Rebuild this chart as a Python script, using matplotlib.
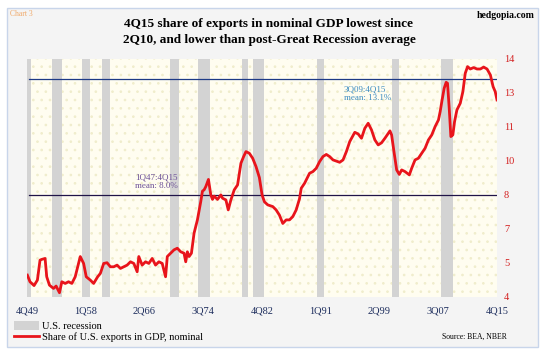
import numpy as np
import matplotlib
matplotlib.use("Agg")
from matplotlib import pyplot as plt
from matplotlib.patches import Rectangle, Patch
from matplotlib.lines import Line2D

plt.rcParams['font.family'] = ['Liberation Serif', 'DejaVu Serif']

# Share of U.S. exports in nominal GDP (%)
years = [1949.80, 1950.17, 1950.74, 1951.21, 1951.58, 1951.82, 1952.29, 1952.52,
         1952.90, 1953.47, 1953.84, 1954.31, 1954.64, 1955.11, 1955.58, 1956.05,
         1956.52, 1957.23, 1957.70, 1958.07, 1958.64, 1959.11, 1959.67, 1960.05,
         1960.52, 1960.99, 1961.46, 1961.93, 1962.40, 1962.87, 1963.34, 1963.81,
         1964.28, 1964.75, 1965.22, 1965.45, 1965.92, 1966.39, 1966.86, 1967.33,
         1967.80, 1968.27, 1968.74, 1969.21, 1969.45, 1969.92, 1970.39, 1970.86,
         1971.33, 1971.80, 1972.04, 1972.27, 1972.51, 1972.84, 1973.21, 1973.68,
         1974.15, 1974.39, 1974.62, 1974.86, 1975.23, 1975.56, 1975.80, 1976.03,
         1976.50, 1976.97, 1977.21, 1977.68, 1978.01, 1978.38, 1978.85, 1979.32,
         1979.79, 1980.17, 1980.50, 1980.97, 1981.44, 1981.91, 1982.38, 1982.76,
         1983.09, 1983.56, 1984.26, 1984.73, 1985.20, 1985.67, 1986.14, 1986.61,
         1987.08, 1987.55, 1988.02, 1988.26, 1988.73, 1989.43, 1989.90, 1990.37,
         1990.84, 1991.31, 1991.78, 1992.25, 1992.72, 1993.19, 1993.66, 1994.13,
         1994.60, 1995.07, 1995.78, 1996.25, 1996.72, 1997.19, 1997.66, 1998.13,
         1998.60, 1999.07, 1999.54, 2000.01, 2000.72, 2000.95, 2001.28, 2001.66,
         2002.03, 2002.36, 2002.83, 2003.44, 2003.77, 2004.24, 2004.71, 2005.18,
         2005.65, 2006.12, 2006.59, 2007.06, 2007.53, 2007.77, 2008.00, 2008.33,
         2008.61, 2008.80, 2009.04, 2009.27, 2009.55, 2009.79, 2010.12, 2010.59,
         2010.96, 2011.29, 2011.62, 2012.00, 2012.47, 2012.94, 2013.41, 2013.88,
         2014.35, 2014.82, 2015.20, 2015.50, 2015.75]
share = [4.92, 4.64, 4.48, 4.71, 5.55, 5.58, 5.62, 4.85,
         4.50, 4.36, 4.46, 4.18, 4.64, 4.57, 4.64, 4.57,
         4.85, 5.70, 5.41, 4.85, 4.71, 4.57, 4.85, 4.99,
         5.41, 5.44, 5.27, 5.27, 5.34, 5.20, 5.27, 5.34,
         5.48, 5.41, 5.06, 5.70, 5.34, 5.48, 5.41, 5.62,
         5.34, 5.48, 5.41, 4.85, 5.70, 5.84, 5.98, 6.05,
         5.90, 5.84, 5.48, 5.90, 5.70, 5.84, 6.68, 7.24,
         8.01, 8.45, 8.50, 8.64, 8.94, 8.29, 8.10, 8.24,
         8.10, 8.29, 8.15, 8.08, 7.66, 8.08, 8.50, 8.71,
         9.62, 9.90, 10.11, 10.04, 9.83, 9.48, 9.02, 8.29,
         8.00, 7.87, 7.80, 7.66, 7.44, 7.09, 7.24, 7.24,
         7.38, 7.66, 8.13, 8.57, 8.78, 9.20, 9.27, 9.41,
         9.69, 9.90, 9.99, 9.90, 9.76, 9.71, 9.66, 9.76,
         10.11, 10.53, 10.92, 10.85, 10.67, 11.09, 11.30, 11.02,
         10.60, 10.39, 10.48, 10.67, 10.98, 10.81, 10.11, 9.34,
         9.15, 9.34, 9.27, 9.13, 9.41, 9.76, 9.83, 10.04,
         10.25, 10.60, 10.81, 11.16, 11.44, 11.79, 12.21, 12.77,
         13.02, 12.98, 11.93, 10.74, 10.81, 11.37, 11.86, 12.14,
         12.63, 13.40, 13.68, 13.58, 13.64, 13.58, 13.58, 13.66,
         13.58, 13.33, 12.84, 12.63, 12.28]

# NBER recessions as shaded on the chart (decimal years)
rec_start = [1949.75, 1953.3, 1957.5, 1960.3, 1969.9, 1973.7, 1980.0, 1981.5,
             1990.5, 2001.0, 2007.85]
rec_end = [1950.3, 1954.7, 1958.6, 1961.45, 1971.05, 1975.4, 1980.8, 1983.0,
           1991.45, 2002.05, 2009.6]

mean_all = 8.27      # 1Q47:4Q15 mean line
mean_recent = 13.15  # 3Q09:4Q15 mean line

xtick_pos = [1949.75 + 8.25 * k for k in range(9)]
xtick_labels = ["4Q49", "1Q58", "2Q66", "3Q74", "4Q82", "1Q91", "2Q99",
                "3Q07", "4Q15"]
ytick_pos = np.linspace(4, 14, 8)
ytick_labels = ["4", "5", "7", "8", "10", "11", "13", "14"]

W, H = 548, 355
fig = plt.figure(figsize=(W / 100, H / 100), dpi=100)
fig.patch.set_facecolor("white")

# outer panel with light border
fig.add_artist(Rectangle((7 / W, 1 - 347 / H), 531 / W, 339 / H,
                         transform=fig.transFigure, facecolor="#f4f4f4",
                         edgecolor="#c8d5ea", linewidth=1.0, zorder=0))

ax = fig.add_axes([27 / W, 1 - 297 / H, 470 / W, 238 / H])
ax.set_facecolor("#fffdf0")
plt.rcParams['hatch.linewidth'] = 0.7
ax.add_patch(Rectangle((0, 0), 1, 1, transform=ax.transAxes,
                       facecolor="#fffdf0", edgecolor="#f0edcc", hatch="..",
                       linewidth=0, zorder=0))

for s, e in zip(rec_start, rec_end):
    ax.axvspan(s, e, color="#d3d3d3", linewidth=0, zorder=1)

ax.axhline(mean_recent, xmin=0.004, xmax=1.0, color="#1d3a86", lw=0.9, zorder=2)
ax.axhline(mean_all, xmin=0.004, xmax=1.0, color="#201448", lw=0.9, zorder=2)

ax.plot(years, share, color="#e8141b", lw=2.0, zorder=3,
        solid_joinstyle="round")

ax.text(1967.9, 8.85, "1Q47:4Q15\nmean: 8.0%", color="#6b4f96", fontsize=6.5,
        ha="center", va="center", linespacing=1.15)
ax.text(1994.2, 12.55, "3Q09:4Q15\nmean: 13.1%", color="#3d8cc0", fontsize=6.5,
        ha="left", va="center", linespacing=1.15)

ax.set_xlim(1949.75, 2015.75)
ax.set_ylim(4, 14)
ax.set_xticks(xtick_pos)
ax.set_xticklabels(xtick_labels, color="#1c2c5c", fontsize=7.5)
ax.yaxis.tick_right()
ax.set_yticks(ytick_pos)
ax.set_yticklabels(ytick_labels, color="#d42020", fontsize=7.5)
ax.tick_params(axis="x", length=0, pad=7)
ax.tick_params(axis="y", length=0, pad=5)
for sp in ax.spines.values():
    sp.set_visible(False)

fig.text(269 / W, 1 - 24 / H, "4Q15 share of exports in nominal GDP lowest since",
         ha="center", va="center", fontsize=9.5, fontweight="bold")
fig.text(269 / W, 1 - 39.5 / H, "2Q10, and lower than post-Great Recession average",
         ha="center", va="center", fontsize=9.5, fontweight="bold")
fig.text(10 / W, 1 - 14 / H, "Chart 3", color="#f0a868", fontsize=5.5,
         ha="left", va="center")
fig.text(535 / W, 1 - 15 / H, "hedgopia.com", fontsize=7, fontweight="bold",
         ha="right", va="center")
fig.text(507 / W, 1 - 337 / H, "Source: BEA, NBER", fontsize=5.5,
         ha="right", va="center")

handles = [Patch(facecolor="#d3d3d3", edgecolor="none"),
           Line2D([0], [0], color="#e8141b", lw=2.0)]
fig.legend(handles, ["U.S. recession", "Share of U.S. exports in GDP, nominal"],
           loc="upper left", bbox_to_anchor=(14 / W, 1 - 321 / H),
           frameon=False, fontsize=7.5, handlelength=2.4, handleheight=0.9,
           handletextpad=0.25, labelspacing=0.15, borderpad=0,
           borderaxespad=0)

fig.savefig("out.png", dpi=100)
